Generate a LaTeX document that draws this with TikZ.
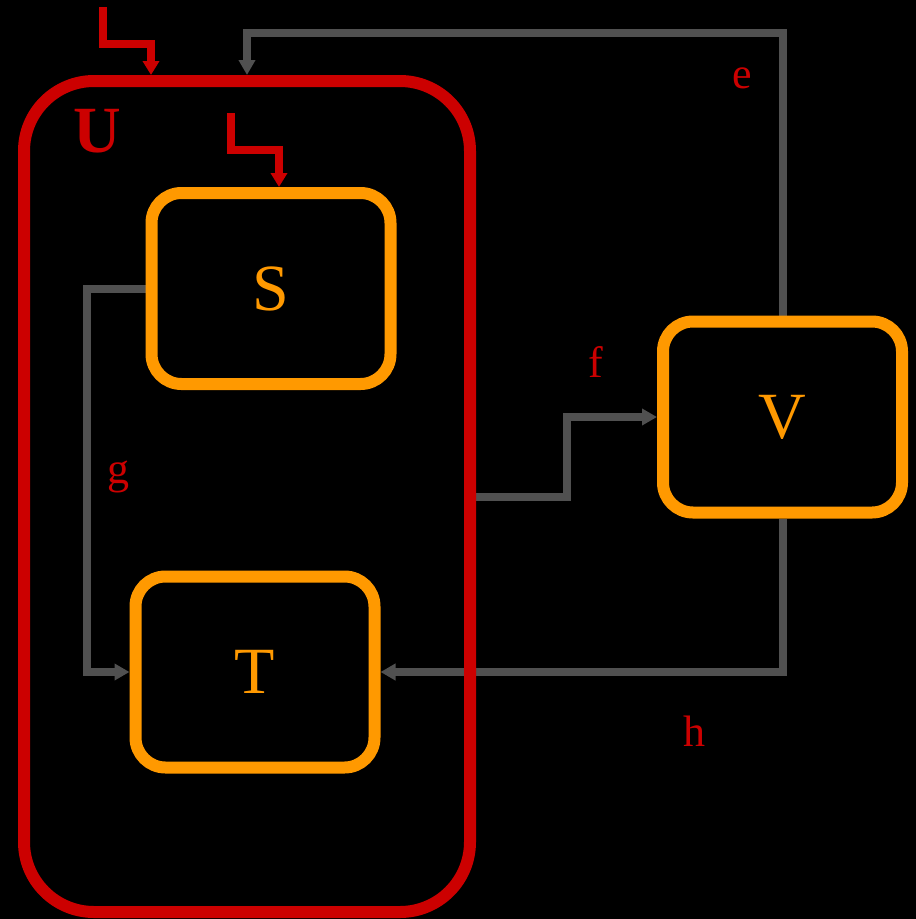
\documentclass[tikz,border=0pt]{standalone}
\usepackage{fontspec}
\setmainfont{Liberation Serif}
\usetikzlibrary{arrows.meta}
\definecolor{ured}{HTML}{CC0000}
\definecolor{bord}{HTML}{FF9900}
\definecolor{wire}{HTML}{505050}
\pgfdeclarelayer{back}
\pgfdeclarelayer{wires}
\pgfsetlayers{back,wires,main}
\begin{document}
\begin{tikzpicture}[x=1pt,y=-1pt,
  box/.style={draw=bord, line width=12pt, rounded corners=30pt, minimum width=239pt,
    minimum height=191pt, outer sep=6pt, inner sep=0pt, text=bord,
    font=\fontsize{66}{66}\selectfont},
  ubox/.style={draw=ured, line width=12pt, rounded corners=70pt, minimum width=446pt,
    minimum height=831pt, outer sep=6pt, inner sep=0pt},
  wireline/.style={draw=wire, line width=8pt, -{Triangle[width=16pt,length=15pt]}},
  redline/.style={draw=ured, line width=8pt, -{Triangle[width=16pt,length=14pt]}},
  lbl/.style={text=ured, anchor=base, inner sep=0pt, font=\fontsize{44}{44}\selectfont}]
\begin{pgfonlayer}{back}
\fill[black] (0,0) rectangle (916,919);
\end{pgfonlayer}
\useasboundingbox (0,0) rectangle (916,919);

\node[ubox] (U) at (247,496.5) {};
\node[box] (S) at (271,288.5) {S};
\node[box] (T) at (255,672) {T};
\node[box] (V) at (782.5,417) {V};

\node[lbl, font=\fontsize{66}{66}\selectfont\bfseries] (ul) at (97.5,152) {U};
\node[lbl] (el) at (742,88) {e};
\node[lbl] (fl) at (596,377) {f};
\node[lbl] (gl) at (118,483) {g};
\node[lbl] (hl) at (694,746) {h};

\coordinate (ey) at (500,33);
\coordinate (fx) at (567,0);
\coordinate (gx) at (87,0);
\coordinate (r1a) at (103,7);
\coordinate (r1b) at (103,44);
\coordinate (r1c) at (151,44);
\coordinate (r2a) at (231,113);
\coordinate (r2b) at (231,150);
\coordinate (r2c) at (279,150);

\begin{pgfonlayer}{wires}
\draw[wireline] (V.north) -- (V.north |- ey) -- (U.north |- ey) -- (U.north);
\draw[wireline] (U.east) -| (fx |- V.west) -- (V.west);
\draw[wireline] (S.west) -- (gx |- S.west) |- (T.west);
\draw[wireline] (V.south) |- (T.east);
\end{pgfonlayer}

\draw[redline] (r1a) -- (r1b) -- (r1c) -- (r1c |- U.north);
\draw[redline] (r2a) -- (r2b) -- (r2c) -- (r2c |- S.north);
\end{tikzpicture}
\end{document}
